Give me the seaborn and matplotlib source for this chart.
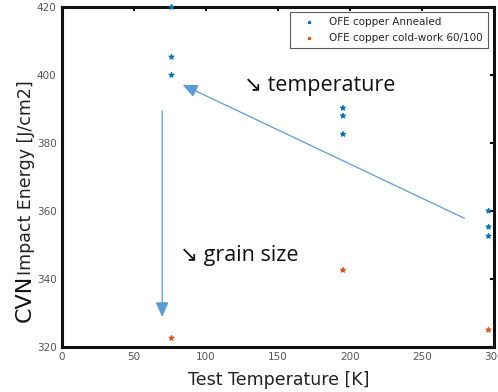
import matplotlib
matplotlib.use("Agg")
import matplotlib.pyplot as plt
import seaborn as sns
import pandas as pd

# Data
annealed_T = [76, 76, 76, 195, 195, 195, 296, 296, 296]
annealed_E = [420, 405.3, 400, 390.3, 388, 382.6, 360, 355.3, 352.6]
cold_T = [76, 195, 296]
cold_E = [322.6, 342.6, 325]
series_names = ["OFE copper Annealed", "OFE copper cold-work 60/100"]
x_ticks = [0, 50, 100, 150, 200, 250, 300]
y_ticks = [320, 340, 360, 380, 400, 420]

df = pd.DataFrame({
    "T": annealed_T + cold_T,
    "E": annealed_E + cold_E,
    "series": [series_names[0]] * len(annealed_T) + [series_names[1]] * len(cold_T),
})

sns.set_style("white")
plt.rcParams['font.family'] = ['DejaVu Sans']

fig = plt.figure(figsize=(4.98, 3.92), dpi=100)
ax = fig.add_axes([0.1245, 0.115, 0.868, 0.867])

sns.scatterplot(data=df, x="T", y="E", hue="series",
                palette=["#0072BD", "#D95319"], marker="*", s=14,
                edgecolor=None, linewidth=0.8, ax=ax, clip_on=False, zorder=3)

ax.set_xlim(0, 300)
ax.set_ylim(320, 420)
ax.set_xticks(x_ticks)
ax.set_yticks(y_ticks)
ax.tick_params(direction="in", length=3, width=1.5, colors="black",
               labelcolor="#555555", labelsize=7.5, top=True, right=True, pad=4)
for sp in ax.spines.values():
    sp.set_linewidth(2.2)
    sp.set_color("#111111")
ax.set_xlabel("")
ax.set_ylabel("")

leg = ax.legend(loc="upper right", fontsize=7.5, frameon=True, fancybox=False,
                markerscale=0.6, handletextpad=0.6, borderpad=0.5,
                labelspacing=0.55, handlelength=2.6,
                bbox_to_anchor=(0.997, 1.0))
leg.get_frame().set_edgecolor("#333333")
leg.get_frame().set_linewidth(0.8)

# Annotation arrows
arrow_col = "#5B9BD5"
ax.annotate("", xy=(82, 397.5), xytext=(281, 357.5),
            arrowprops=dict(arrowstyle="-|>,head_length=0.9,head_width=0.4",
                            color=arrow_col, lw=0.9))
ax.annotate("", xy=(69.5, 328), xytext=(69.5, 390.3),
            arrowprops=dict(arrowstyle="-|>,head_length=0.9,head_width=0.4",
                            color=arrow_col, lw=0.9))

fam = ['Open Sans', 'DejaVu Sans']
ax.text(126, 396.8, "\u2198 temperature", fontsize=15.5, family=fam,
        color="#111111", va="center", ha="left")
ax.text(82, 346.8, "\u2198 grain size", fontsize=15.5, family=fam,
        color="#111111", va="center", ha="left")

fig.text(0.56, 0.008, "Test Temperature [K]", fontsize=12.5, color="#222222",
         ha="center", va="bottom")
fig.text(0.05, 0.24, "CVN", fontsize=16, rotation=90, color="#111111",
         ha="center", va="center")
fig.text(0.052, 0.548, "Impact Energy [J/cm2]", fontsize=12.5, rotation=90,
         color="#222222", ha="center", va="center")

fig.savefig("out.png", dpi=100)
